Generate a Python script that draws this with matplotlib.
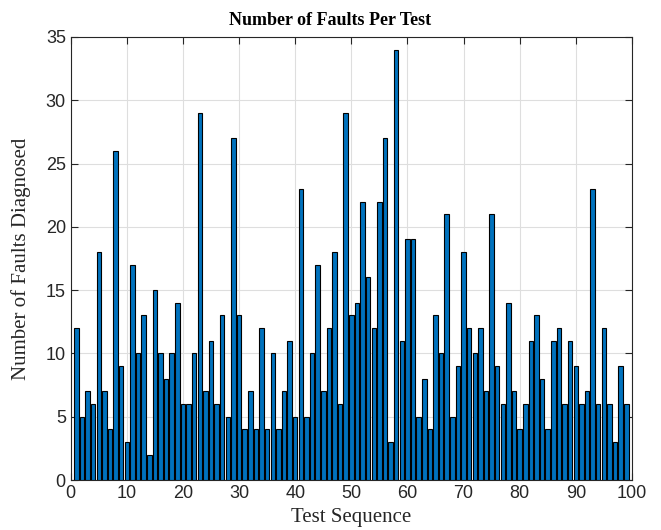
import numpy as np
import matplotlib.pyplot as plt

# faults diagnosed for each test in the sequence (tests 1..99)
tests = list(range(1, 100))
faults = [12, 5, 7, 6, 18, 7, 4, 26, 9, 3,
          17, 10, 13, 2, 15, 10, 8, 10, 14, 6,
          6, 10, 29, 7, 11, 6, 13, 5, 27, 13,
          4, 7, 4, 12, 4, 10, 4, 7, 11, 5,
          23, 5, 10, 17, 7, 12, 18, 6, 29, 13,
          14, 22, 16, 12, 22, 27, 3, 34, 11, 19,
          19, 5, 8, 4, 13, 10, 21, 5, 9, 18,
          12, 10, 12, 7, 21, 9, 6, 14, 7, 4,
          6, 11, 13, 8, 4, 11, 12, 6, 11, 9,
          6, 7, 23, 6, 12, 6, 3, 9, 6]
xticks = list(range(0, 101, 10))
yticks = list(range(0, 36, 5))

fig = plt.figure(figsize=(6.61, 5.3), dpi=100)
ax = fig.add_axes([0.107, 0.0943, 0.849, 0.836])

ax.bar(tests, faults, width=0.8, color="#0072BD", edgecolor="black", linewidth=0.8, zorder=3)

ax.set_xlim(0, 100)
ax.set_ylim(0, 35)
ax.set_xticks(xticks)
ax.set_yticks(yticks)
ax.grid(True, color="#dedede", linewidth=0.8, zorder=0)
ax.tick_params(direction="in", top=True, right=True, length=5, colors="#262626",
               labelsize=13, labelcolor="#262626")
for lab in ax.get_xticklabels() + ax.get_yticklabels():
    lab.set_fontfamily("Liberation Sans")
for s in ax.spines.values():
    s.set_color("#262626")
    s.set_linewidth(0.8)

# title sits centred on the figure, not the axes
fig.text(0.5, 1 - 25 / 530, "Number of Faults Per Test", fontfamily="Liberation Serif",
         fontweight="bold", fontsize=13, ha="center", va="baseline")
ax.set_xlabel("Test Sequence", fontfamily="Liberation Serif", fontsize=15, color="#262626")
ax.set_ylabel("Number of Faults Diagnosed", fontfamily="Liberation Serif", fontsize=15,
              color="#262626")
ax.xaxis.set_label_coords(0.5, -0.064)
ax.yaxis.set_label_coords(-0.07, 0.5)

fig.savefig("out.png", dpi=100)
